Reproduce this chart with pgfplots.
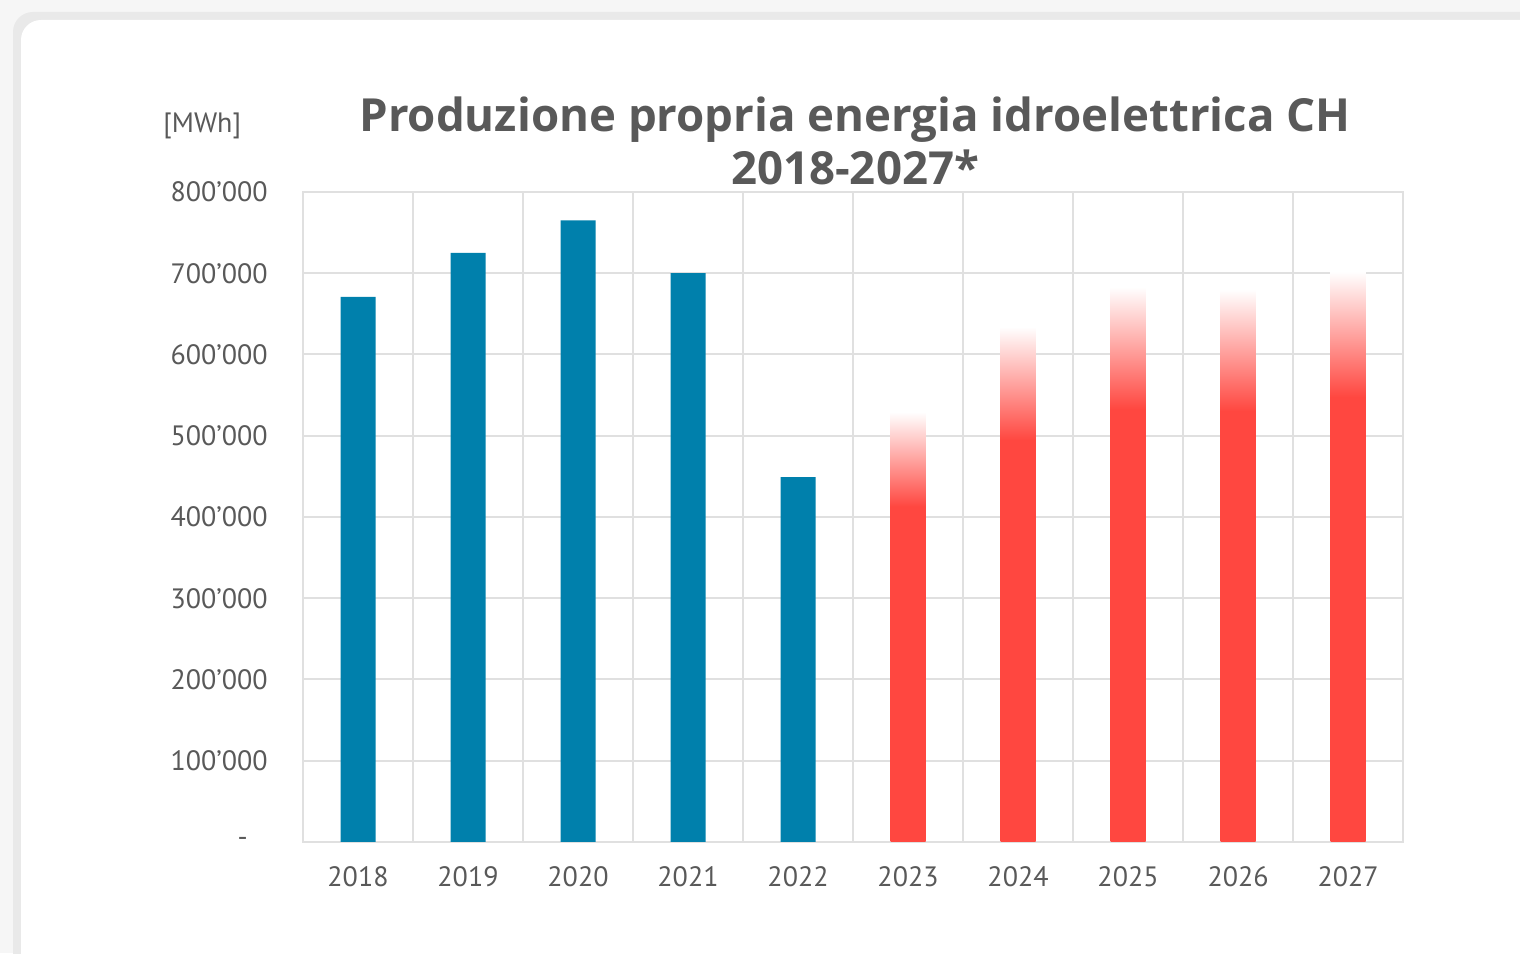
\documentclass[border=0pt]{standalone}
\usepackage{fontspec}
\setmainfont{PT Sans}
\newfontfamily\titlefont{Open Sans}
\usepackage{pgfplots}
\pgfplotsset{compat=1.18}
\definecolor{barblue}{RGB}{0,128,172}
\definecolor{barred}{RGB}{255,71,64}
\definecolor{txt}{RGB}{89,89,89}
\definecolor{gridc}{RGB}{224,224,224}
\definecolor{bg1}{RGB}{246,246,246}
\definecolor{bg2}{RGB}{233,233,233}
\pgfdeclareverticalshading{redfade}{100bp}{color(0bp)=(barred); color(25bp)=(barred); color(64bp)=(barred); color(75bp)=(white); color(100bp)=(white)}
\pgfplotsset{redbar/.style={ybar, bar width=17.5pt, bar shift=0pt, shading=redfade, draw=none}}
\begin{document}
\begin{tikzpicture}
\useasboundingbox (0,0) rectangle (760pt,476.5pt);
\begin{scope}
\clip (0,0) rectangle (760pt,476.5pt);
\fill[bg1] (0,0) rectangle (760pt,476.5pt);
\fill[bg2, rounded corners=10pt] (6.5pt,-20pt) rectangle (790pt,470.5pt);
\fill[white, rounded corners=10pt] (10.5pt,-20pt) rectangle (790pt,466.5pt);
\end{scope}
\begin{axis}[
  at={(151.5pt,55.5pt)}, anchor=south west,
  scale only axis, width=550pt, height=325pt,
  xmin=-0.5, xmax=9.5, ymin=0, ymax=800000,
  xtick={0,1,2,3,4,5,6,7,8,9},
  xticklabels={2018,2019,2020,2021,2022,2023,2024,2025,2026,2027},
  minor xtick={-0.5,0.5,1.5,2.5,3.5,4.5,5.5,6.5,7.5,8.5,9.5},
  ytick={0,100000,200000,300000,400000,500000,600000,700000,800000},
  yticklabels={{\raisebox{-2.5pt}{-}\hspace*{10pt}},100’000,200’000,300’000,400’000,500’000,600’000,700’000,800’000},
  major tick length=0pt, minor tick length=0pt,
  ymajorgrids, xminorgrids,
  grid style={gridc, line width=1pt},
  minor grid style={gridc, line width=1pt},
  axis line style={gridc, line width=1pt},
  tick label style={font=\fontsize{14}{16}\selectfont, text=txt},
  yticklabel style={inner sep=0pt, xshift=-17.5pt},
  xticklabel style={inner sep=0pt, yshift=-12pt},
  scaled y ticks=false,
]
\addplot[ybar, bar width=17.5pt, bar shift=0pt, fill=barblue, draw=none]
  coordinates {(0,671000) (1,725000) (2,765000) (3,700000) (4,449000)};
\addplot[redbar] coordinates {(5,529000)};
\addplot[redbar] coordinates {(6,634000)};
\addplot[redbar] coordinates {(7,683000)};
\addplot[redbar] coordinates {(8,680000)};
\addplot[redbar] coordinates {(9,702000)};
\end{axis}
\node[anchor=base, text=txt, font=\titlefont\fontsize{22.8}{26}\bfseries] at (427.5pt,410.5pt) {Produzione propria energia idroelettrica CH};
\node[anchor=base, text=txt, font=\titlefont\fontsize{22.8}{26}\bfseries] at (427.5pt,384pt) {2018-2027*};
\node[anchor=base west, text=txt, font=\fontsize{14}{16}\selectfont, inner sep=0pt] at (81.5pt,410pt) {[MWh]};
\end{tikzpicture}
\end{document}
